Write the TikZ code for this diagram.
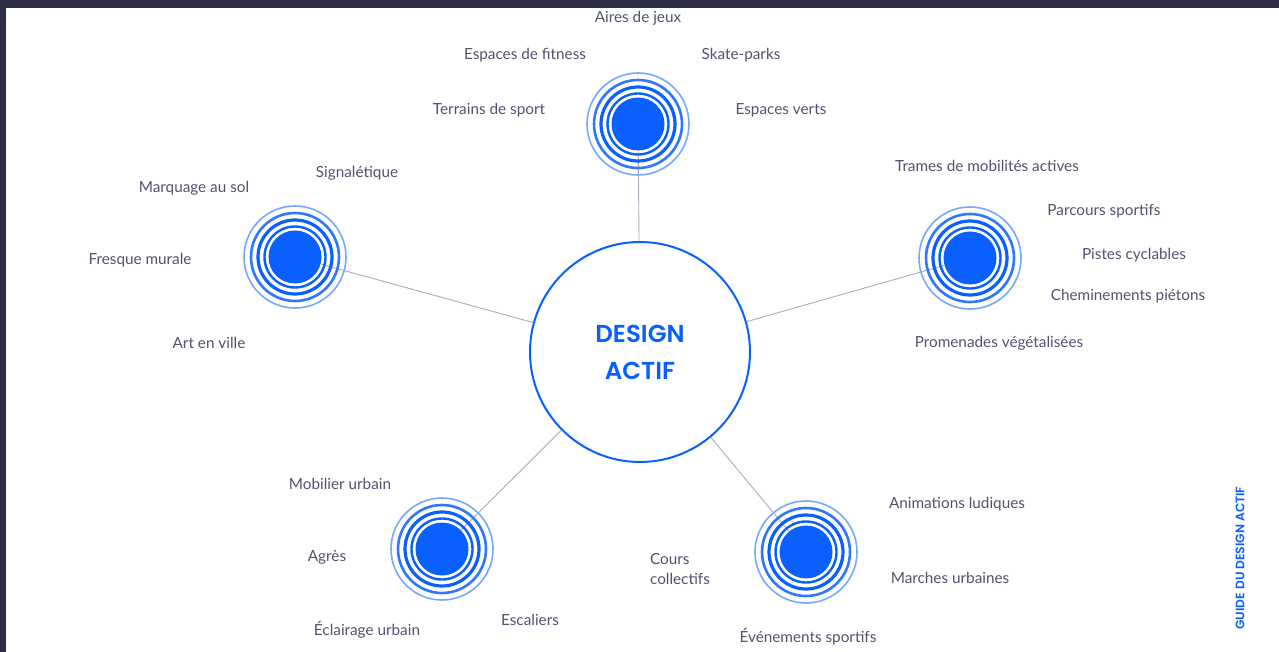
\documentclass[tikz,border=0pt]{standalone}
\usepackage{fontspec}
\setmainfont{Lato}
\newfontfamily\geofont[UprightFont=* SemiBold]{Poppins}
\usetikzlibrary{positioning}

\definecolor{actblue}{RGB}{10,95,255}
\definecolor{leafgray}{RGB}{82,82,112}
\definecolor{framedark}{RGB}{45,46,68}
\definecolor{linkgray}{RGB}{172,172,188}

\tikzset{
  hub/.style={circle,fill=actblue,inner sep=0pt,minimum size=53pt},
  leaf/.style={text=leafgray,inner sep=0pt,font=\fontsize{15.3}{20}\selectfont},
  link/.style={linkgray,line width=0.9pt},
}

\begin{document}
\begin{tikzpicture}[x=1pt,y=-1pt]
\useasboundingbox (0,0) rectangle (1279,652);
\fill[framedark] (0,0) rectangle (1279,652);
\fill[white] (6,8) rectangle (1279,652);

% centre
\node[circle,draw=actblue,line width=2pt,fill=white,minimum size=220pt,inner sep=0pt,
  align=center,text=actblue,font=\geofont\fontsize{24.5}{37}\selectfont] (centre) at (640,352) {DESIGN\\ACTIF};

% hubs
\node[hub] (hubsport) at (638,124) {};
\node[hub] (hubart) at (295,257) {};
\node[hub] (hubmob) at (970,258) {};
\node[hub] (hubmobilier) at (442,549) {};
\node[hub] (hubevent) at (806,552) {};

% links
\draw[link] (centre) -- (hubsport);
\draw[link] (centre) -- (hubart);
\draw[link] (centre) -- (hubmob);
\draw[link] (centre) -- (hubmobilier);
\draw[link] (centre) -- (hubevent);

% rings
\foreach \h in {hubsport,hubart,hubmob,hubmobilier,hubevent}{
  \draw[actblue,line width=2.4pt] (\h) circle (30.5pt);
  \draw[actblue,line width=3.2pt] (\h) circle (37pt);
  \draw[actblue!85,line width=2.6pt] (\h) circle (44pt);
  \draw[actblue!55,line width=1.6pt] (\h) circle (51pt);
}

% top
\node[leaf] (jeux) at (638,18) {Aires de jeux};
\node[leaf] (fitness) at (525,55) {Espaces de fitness};
\node[leaf] (skate) at (741,55) {Skate-parks};
\node[leaf] (terrains) at (489,110) {Terrains de sport};
\node[leaf] (verts) at (781,110) {Espaces verts};

% left
\node[leaf] (signal) at (357,173) {Signalétique};
\node[leaf] (marquage) at (194,188) {Marquage au sol};
\node[leaf] (fresque) at (140,260) {Fresque murale};
\node[leaf] (artville) at (209,343) {Art en ville};

% right
\node[leaf] (trames) at (987,166) {Trames de mobilités actives};
\node[leaf] (parcours) at (1104,211) {Parcours sportifs};
\node[leaf] (pistes) at (1134,255) {Pistes cyclables};
\node[leaf] (chemins) at (1128,296) {Cheminements piétons};
\node[leaf] (promenades) at (999,343) {Promenades végétalisées};

% bottom left
\node[leaf] (mobilier) at (340,484) {Mobilier urbain};
\node[leaf] (agres) at (327,557) {Agrès};
\node[leaf] (eclairage) at (367,630) {Éclairage urbain};
\node[leaf] (escaliers) at (530,620) {Escaliers};

% bottom right
\node[leaf] (animations) at (957,504) {Animations ludiques};
\node[leaf,align=left] (cours) at (680,569) {Cours\\collectifs};
\node[leaf] (marches) at (950,578) {Marches urbaines};
\node[leaf] (evenements) at (808,637) {Événements sportifs};

\node[rotate=90,text=actblue,inner sep=0pt,font=\geofont\fontsize{12.3}{12}\selectfont] (guide) at (1240,558) {GUIDE DU DESIGN ACTIF};
\end{tikzpicture}
\end{document}
